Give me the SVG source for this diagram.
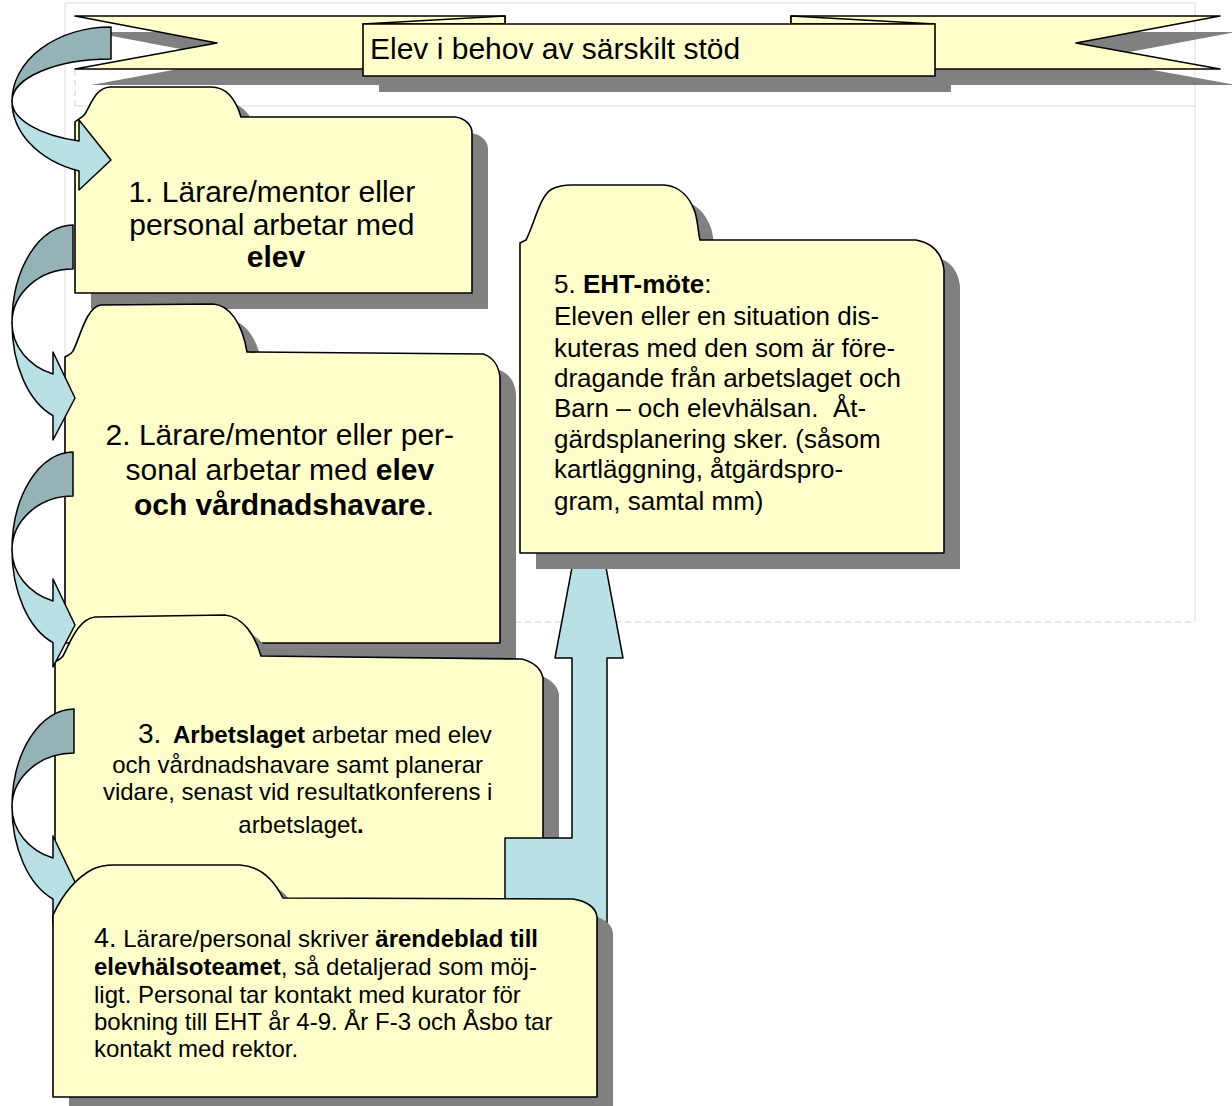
<svg xmlns="http://www.w3.org/2000/svg" xmlns:xlink="http://www.w3.org/1999/xlink" width="1232" height="1106" viewBox="0 0 1232 1106">
<style>
.guide{stroke:#dcdcdc;stroke-width:1;fill:none}
.guide-d{stroke:#d0d0d0;stroke-width:1;fill:none;stroke-dasharray:6 4}
.shadow{fill:#808080;stroke:none}
.paper{fill:#FFFFCC;stroke:#000;stroke-width:1.6;stroke-linejoin:round}
.back{fill:#95B2B6;stroke:#000;stroke-width:1.5;stroke-linejoin:round}
.front{fill:#B9E0E4;stroke:#000;stroke-width:1.5;stroke-linejoin:round}
text{font-family:"Liberation Sans",Arial,Helvetica,sans-serif;fill:#000}
.b{font-weight:bold}
</style>
<defs>
<path id="bl" d="M75,16 L505,16 L505,69 L75,69 L217,43 Z"/>
<path id="br" d="M791,16 L1220,16 L1076,43 L1220,69 L791,69 Z"/>
<path id="bc" d="M363,24 H935 V76 H363 Z"/>
<path id="f1" d="M75,293 L75,122 C78,119 82,118 85,114 C92,102 96,88 110,87 L211,87 C227,87 236,100 241,117 L455,117 C465,118 472,125 472,133 L472,293 Z"/>
<path id="f2" d="M65,643 L65,357 C68,355 71,355 73,351 C80,338 86,307 101,305 L213,304 C229,305 242,322 247,352 L483,354 C493,357 499,366 500,378 L500,643 Z"/>
<path id="f3" d="M55,925 L55,662 C58,660 60,660 63,656 C70,643 78,619 95,617 L225,615 C243,617 255,635 261,656 L522,659 C533,662 541,668 543,678 L543,925 Z"/>
<path id="f4" d="M53,1097 L53,915 C60,900 72,880 93,869 C100,866 106,865 113,865 L240,865 C258,866 273,878 283,898 L573,899 C586,901 596,907 597,917 L597,1097 Z"/>
<path id="f5" d="M520,553 L520,243 L526,240 C534,225 540,195 552,189 C558,186 563,185 572,185 L664,185 C680,186 690,198 695,212 C698,222 698,232 700,240 L916,240 C932,243 942,252 944,270 L944,553 Z"/>
</defs>

<g id="page-guides">
<line class="guide" x1="65" y1="3" x2="1195" y2="3"/>
<line class="guide" x1="1195" y1="3" x2="1195" y2="622"/>
<line class="guide" x1="75" y1="106" x2="1195" y2="106"/>
<line class="guide" x1="65" y1="3" x2="65" y2="622"/>
<line class="guide-d" x1="75" y1="70" x2="75" y2="106"/>
<line class="guide-d" x1="65" y1="622" x2="1195" y2="622"/>
</g>

<g id="title">
<use xlink:href="#bl" href="#bl" class="shadow" transform="translate(16,16)"/>
<use xlink:href="#br" href="#br" class="shadow" transform="translate(16,16)"/>
<use xlink:href="#bc" href="#bc" class="shadow" transform="translate(16,16)"/>
<use xlink:href="#bl" href="#bl" class="paper"/>
<use xlink:href="#br" href="#br" class="paper"/>
<path class="paper" d="M505,16 L363,24 L505,24 Z"/>
<path class="paper" d="M791,16 L935,24 L791,24 Z"/>
<use xlink:href="#bc" href="#bc" class="paper"/>
<text x="370" y="59" font-size="30">Elev i behov av särskilt stöd</text>
</g>

<g id="step1">
<use xlink:href="#f1" href="#f1" class="shadow" transform="translate(16,16)"/>
<use xlink:href="#f1" href="#f1" class="paper"/>
<text font-size="30" text-anchor="middle">
<tspan x="276" y="202">1. Lärare/mentor eller</tspan>
<tspan x="276" y="235">personal arbetar med</tspan>
<tspan x="276" y="267" class="b">elev</tspan>
</text>
</g>

<g id="step2">
<use xlink:href="#f2" href="#f2" class="shadow" transform="translate(16,16)"/>
<use xlink:href="#f2" href="#f2" class="paper"/>
<text font-size="30" text-anchor="middle">
<tspan x="284" y="445">2. Lärare/mentor eller per-</tspan>
<tspan x="284" y="480">sonal arbetar med <tspan class="b">elev</tspan></tspan>
<tspan x="284" y="515"><tspan class="b">och vårdnadshavare</tspan>.</tspan>
</text>
</g>

<g id="step3">
<use xlink:href="#f3" href="#f3" class="shadow" transform="translate(16,16)"/>
<use xlink:href="#f3" href="#f3" class="paper"/>
<text font-size="24" x="138" y="743"><tspan font-size="28">3.</tspan><tspan x="173" class="b">Arbetslaget</tspan> arbetar med elev</text>
<text font-size="24" text-anchor="middle">
<tspan x="301" y="773">och vårdnadshavare samt planerar</tspan>
<tspan x="301" y="800">vidare, senast vid resultatkonferens i</tspan>
<tspan x="301" y="833">arbetslaget<tspan class="b">.</tspan></tspan>
</text>
</g>

<g id="connectors">
<path class="back" d="M111,27 A99,74 0 0 0 12,101 A99,42 0 0 1 111,59 Z"/>
<path class="front" d="M12,101 A99,74 0 0 0 79,171 L79,190 L111,160 L79,120 L79,141 A99,42 0 0 1 12,101 Z"/>
<path class="back" d="M73,225 A61,98 0 0 0 12,323 A61,54 0 0 1 73,269 Z"/>
<path class="front" d="M12,323 A61,98 0 0 0 53,415.6 L53,440 L75,398 L53,352 L53,374 A61,54 0 0 1 12,323 Z"/>
<path class="back" d="M73,452 A61,98 0 0 0 12,550 A61,54 0 0 1 73,496 Z"/>
<path class="front" d="M12,550 A61,98 0 0 0 53,642.6 L53,667 L75,625 L53,579 L53,601 A61,54 0 0 1 12,550 Z"/>
<path class="back" d="M74,709 A62,98 0 0 0 12,807 A62,54 0 0 1 74,753 Z"/>
<path class="front" d="M12,807 A62,98 0 0 0 53,899 L53,924 L75,882 L53,836 L53,858 A62,54 0 0 1 12,807 Z"/>
<path class="front" d="M505,838 L572,838 L572,658 L555,658 L589,477 L623,658 L607,658 L607,935 L505,935 Z"/>
</g>

<g id="step4">
<use xlink:href="#f4" href="#f4" class="shadow" transform="translate(16,16)"/>
<use xlink:href="#f4" href="#f4" class="paper"/>
<text font-size="24">
<tspan x="94" y="947"><tspan font-size="27">4.</tspan> Lärare/personal skriver <tspan class="b">ärendeblad till</tspan></tspan>
<tspan x="94" y="975"><tspan class="b">elevhälsoteamet</tspan>, så detaljerad som möj-</tspan>
<tspan x="94" y="1003">ligt. Personal tar kontakt med kurator för</tspan>
<tspan x="94" y="1030">bokning till EHT år 4-9. År F-3 och Åsbo tar</tspan>
<tspan x="94" y="1057">kontakt med rektor.</tspan>
</text>
</g>

<g id="step5">
<use xlink:href="#f5" href="#f5" class="shadow" transform="translate(16,16)"/>
<use xlink:href="#f5" href="#f5" class="paper"/>
<text font-size="26">
<tspan x="554" y="293">5. <tspan class="b">EHT-möte</tspan>:</tspan>
<tspan x="554" y="325">Eleven eller en situation dis-</tspan>
<tspan x="554" y="357">kuteras med den som är före-</tspan>
<tspan x="554" y="387">dragande från arbetslaget och</tspan>
<tspan x="554" y="417">Barn – och elevhälsan.&#160; Åt-</tspan>
<tspan x="554" y="448">gärdsplanering sker. (såsom</tspan>
<tspan x="554" y="478">kartläggning, åtgärdspro-</tspan>
<tspan x="554" y="510">gram, samtal mm)</tspan>
</text>
</g>
</svg>
